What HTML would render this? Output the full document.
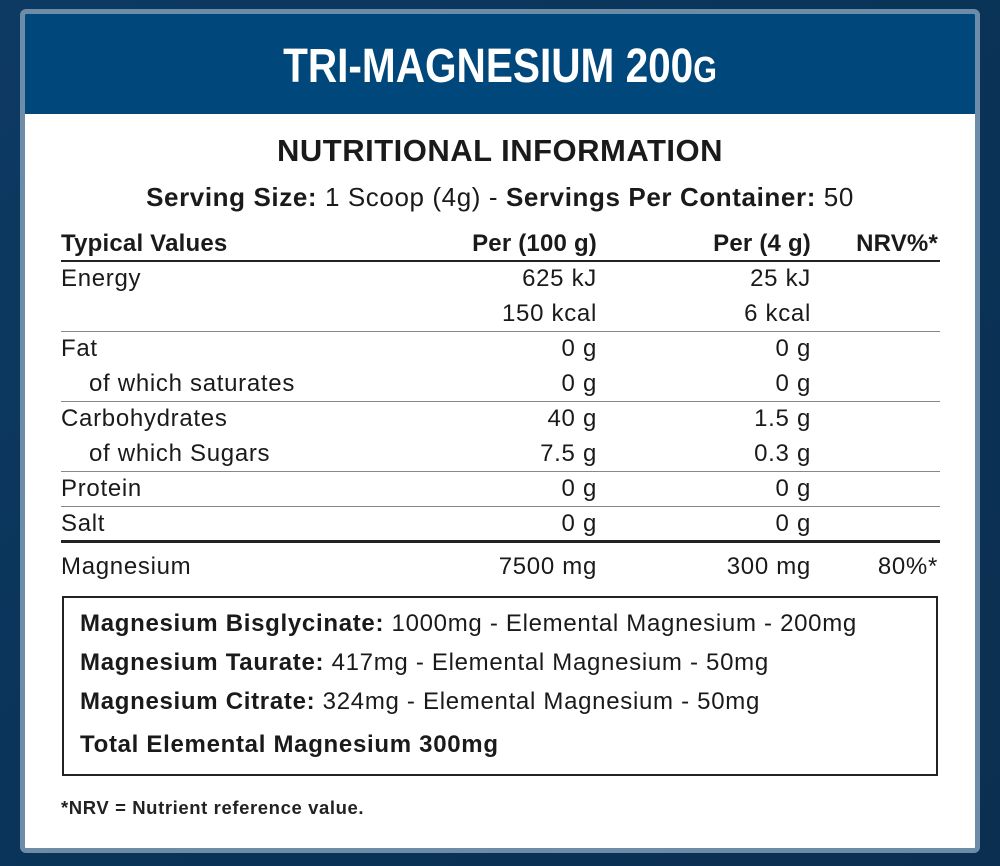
<!DOCTYPE html>
<html><head><meta charset="utf-8"><style>
body{margin:0;width:1000px;height:866px;overflow:hidden;background:linear-gradient(135deg,#0d3a63 0%,#0a3358 50%,#0b2f50 100%);font-family:"Liberation Sans",sans-serif;color:#1a1a1a;position:relative}
.frame{position:absolute;left:20px;top:9px;width:950px;height:834px;border:5px solid #6d8ca8;border-radius:6px;background:#fff;overflow:hidden}
.hdr{position:absolute;left:0;top:0;width:950px;height:100px;background:#00487b}
.title{position:absolute;left:0;top:0;width:950px;text-align:center;line-height:106px;color:#fff;font-family:"Liberation Sans Narrow","Liberation Sans",sans-serif;font-weight:bold;font-size:48px;transform:scaleX(0.845);transform-origin:center}
.t{position:absolute;white-space:nowrap}
.r{text-align:right}
.line{position:absolute;left:36px;width:879px;height:1px;background:#888}
.thick{height:3px;background:#222}
.row{font-size:24px;letter-spacing:0.7px;line-height:28px}
b{font-weight:bold}
</style></head><body>
<div class="frame">
<div class="hdr"><div class="title">TRI-MAGNESIUM 200<span style="font-size:36px">G</span></div></div>
<div class="t" style="left:0;width:950px;text-align:center;top:119px;font-size:31px;font-weight:bold;letter-spacing:0.5px">NUTRITIONAL INFORMATION</div>
<div class="t" style="left:0;width:950px;text-align:center;top:168px;font-size:26px;letter-spacing:0.6px"><b>Serving Size:</b> 1 Scoop (4g) - <b>Servings Per Container:</b> 50</div>

<div class="t row" style="left:36px;top:216px;font-weight:bold;letter-spacing:0.2px">Typical Values</div>
<div class="t row r" style="right:378px;top:216px;font-weight:bold;letter-spacing:0.2px">Per (100 g)</div>
<div class="t row r" style="right:164px;top:216px;font-weight:bold;letter-spacing:0.2px">Per (4 g)</div>
<div class="t row r" style="right:37px;top:216px;font-weight:bold;letter-spacing:0.2px">NRV%*</div>
<div class="line thick" style="top:246px;height:2px"></div>

<div class="t row" style="left:36px;top:251px">Energy</div>
<div class="t row r" style="right:378px;top:251px">625 kJ</div>
<div class="t row r" style="right:164px;top:251px">25 kJ</div>
<div class="t row r" style="right:378px;top:286px">150 kcal</div>
<div class="t row r" style="right:164px;top:286px">6 kcal</div>
<div class="line" style="top:317px"></div>

<div class="t row" style="left:36px;top:321px">Fat</div>
<div class="t row r" style="right:378px;top:321px">0 g</div>
<div class="t row r" style="right:164px;top:321px">0 g</div>
<div class="t row" style="left:64px;top:356px">of which saturates</div>
<div class="t row r" style="right:378px;top:356px">0 g</div>
<div class="t row r" style="right:164px;top:356px">0 g</div>
<div class="line" style="top:387px"></div>

<div class="t row" style="left:36px;top:391px">Carbohydrates</div>
<div class="t row r" style="right:378px;top:391px">40 g</div>
<div class="t row r" style="right:164px;top:391px">1.5 g</div>
<div class="t row" style="left:64px;top:426px">of which Sugars</div>
<div class="t row r" style="right:378px;top:426px">7.5 g</div>
<div class="t row r" style="right:164px;top:426px">0.3 g</div>
<div class="line" style="top:457px"></div>

<div class="t row" style="left:36px;top:461px">Protein</div>
<div class="t row r" style="right:378px;top:461px">0 g</div>
<div class="t row r" style="right:164px;top:461px">0 g</div>
<div class="line" style="top:492px"></div>

<div class="t row" style="left:36px;top:496px">Salt</div>
<div class="t row r" style="right:378px;top:496px">0 g</div>
<div class="t row r" style="right:164px;top:496px">0 g</div>
<div class="line thick" style="top:526px"></div>

<div class="t row" style="left:36px;top:539px">Magnesium</div>
<div class="t row r" style="right:378px;top:539px">7500 mg</div>
<div class="t row r" style="right:164px;top:539px">300 mg</div>
<div class="t row r" style="right:37px;top:539px">80%*</div>

<div style="position:absolute;left:37px;top:582px;width:872px;height:176px;border:2px solid #222"></div>
<div class="t row" style="left:55px;top:596px"><b>Magnesium Bisglycinate:</b> 1000mg - Elemental Magnesium - 200mg</div>
<div class="t row" style="left:55px;top:635px"><b>Magnesium Taurate:</b> 417mg - Elemental Magnesium - 50mg</div>
<div class="t row" style="left:55px;top:674px"><b>Magnesium Citrate:</b> 324mg - Elemental Magnesium - 50mg</div>
<div class="t row" style="left:55px;top:717px;font-weight:bold">Total Elemental Magnesium 300mg</div>

<div class="t" style="left:36px;top:783px;font-size:18.5px;letter-spacing:0.6px;font-weight:bold;color:#222">*NRV = Nutrient reference value.</div>
</div>
</body></html>
